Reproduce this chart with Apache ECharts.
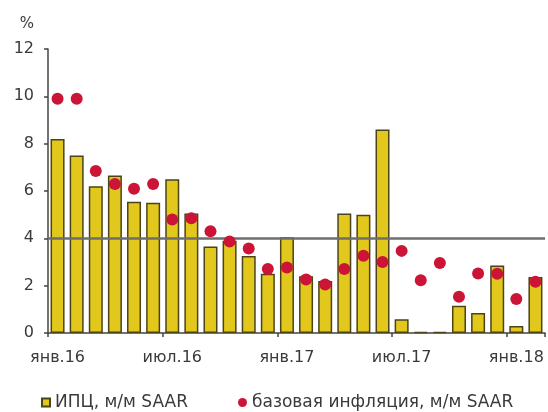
<!DOCTYPE html>
<html>
<head>
<meta charset="utf-8">
<script src="https://cdn.jsdelivr.net/npm/echarts@6/dist/echarts.min.js"></script>
<style>
html, body { margin: 0; padding: 0; background: #fff; }
#chart { width: 548px; height: 412px; }
</style>
</head>
<body>
<div id="chart"></div>
<script>
// месяцы янв.16 - фев.18
var months = ['янв.16','фев.16','мар.16','апр.16','май.16','июн.16','июл.16','авг.16','сен.16','окт.16','ноя.16','дек.16',
              'янв.17','фев.17','мар.17','апр.17','май.17','июн.17','июл.17','авг.17','сен.17','окт.17','ноя.17','дек.17',
              'янв.18','фев.18'];
// ИПЦ, м/м SAAR
var cpiValues = [8.2, 7.5, 6.2, 6.65, 5.55, 5.5, 6.5, 5.05, 3.65, 3.9, 3.25, 2.5,
                 4.05, 2.4, 2.2, 5.05, 5.0, 8.6, 0.58, 0.05, 0.05, 1.15, 0.85, 2.85,
                 0.3, 2.37];
// базовая инфляция, м/м SAAR
var coreValues = [9.9, 9.9, 6.85, 6.3, 6.1, 6.3, 4.8, 4.85, 4.3, 3.87, 3.57, 2.7,
                  2.77, 2.26, 2.05, 2.7, 3.26, 3.0, 3.47, 2.23, 2.96, 1.53, 2.51, 2.5,
                  1.44, 2.17];
var yTicks = [0, 2, 4, 6, 8, 10, 12];
var refLevel = 4;

var font = 'DejaVu Sans';
var textColor = '#3a3a3a';

var myChart = echarts.init(document.getElementById('chart'));
var option = {
    animation: false,
    textStyle: { fontFamily: font },
    grid: {
        left: 48,
        right: 3,
        top: 49,
        bottom: 79
    },
    legend: [
        {
            left: 36,
            top: 389,
            icon: 'rect',
            itemWidth: 8,
            itemHeight: 8,
            textStyle: { fontFamily: font, fontSize: 17, color: textColor },
            data: ['ИПЦ, м/м SAAR']
        },
        {
            left: 233,
            top: 389,
            icon: 'circle',
            itemWidth: 9,
            itemHeight: 9,
            textStyle: { fontFamily: font, fontSize: 17, color: textColor },
            data: ['базовая инфляция, м/м SAAR']
        }
    ],
    xAxis: {
        type: 'category',
        data: months,
        boundaryGap: true,
        axisLine: { lineStyle: { color: '#444', width: 1.5 } },
        axisTick: { show: true, interval: 5, length: 4, lineStyle: { color: '#444', width: 1.5 } },
        axisLabel: {
            interval: 5,
            margin: 17,
            fontFamily: font,
            fontSize: 16,
            color: textColor
        }
    },
    yAxis: {
        type: 'value',
        min: yTicks[0],
        max: yTicks[yTicks.length - 1],
        interval: 2,
        name: '%',
        nameLocation: 'end',
        nameGap: 17,
        nameTextStyle: { fontFamily: font, fontSize: 15, color: textColor, align: 'right', padding: [0, 14, 0, 0] },
        axisLine: { show: true, lineStyle: { color: '#444', width: 1.5 } },
        axisTick: { show: true, length: 4, lineStyle: { color: '#444', width: 1.5 } },
        axisLabel: { margin: 14, fontFamily: font, fontSize: 16, color: textColor },
        splitLine: { show: false }
    },
    series: [
        {
            name: 'ИПЦ, м/м SAAR',
            type: 'bar',
            data: cpiValues,
            barWidth: 14,
            itemStyle: {
                color: '#e2c81c',
                borderColor: '#4a4418',
                borderWidth: 1.5
            },
            markLine: {
                silent: true,
                symbol: 'none',
                label: { show: false },
                lineStyle: { color: '#6e6e6e', width: 2.5, type: 'solid' },
                data: [{ yAxis: refLevel }]
            }
        },
        {
            name: 'базовая инфляция, м/м SAAR',
            type: 'scatter',
            data: coreValues,
            symbol: 'circle',
            symbolSize: 12,
            itemStyle: { color: '#cc1436', opacity: 1 },
            z: 5
        }
    ]
};
myChart.setOption(option);
</script>
</body>
</html>
